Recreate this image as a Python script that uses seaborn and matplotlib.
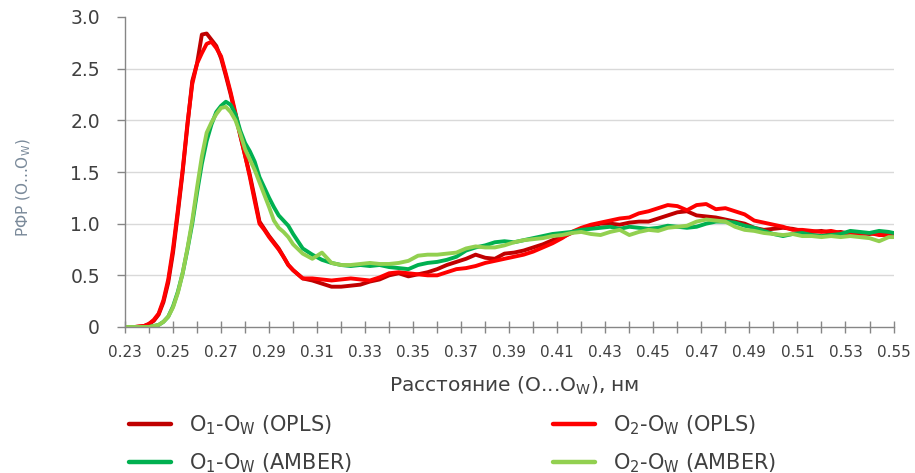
import numpy as np
import pandas as pd
import matplotlib
matplotlib.use("Agg")
import matplotlib.pyplot as plt
import seaborn as sns

# ---------------- data ----------------
x_nm = ([0.230, 0.234, 0.238]
        + [0.240, 0.242, 0.244, 0.246, 0.248, 0.250, 0.252, 0.254, 0.256, 0.258,
           0.260, 0.262, 0.264, 0.266, 0.268, 0.270, 0.272, 0.274, 0.276, 0.278,
           0.280, 0.282, 0.284, 0.286, 0.288, 0.290, 0.292, 0.294, 0.296, 0.298, 0.300]
        + [0.304, 0.308, 0.312, 0.316, 0.320, 0.324, 0.328, 0.332, 0.336, 0.340,
           0.344, 0.348, 0.352, 0.356, 0.360, 0.364, 0.368, 0.372, 0.376, 0.380,
           0.384, 0.388, 0.392, 0.396, 0.400, 0.404, 0.408, 0.412, 0.416, 0.420,
           0.424, 0.428, 0.432, 0.436, 0.440, 0.444, 0.448, 0.452, 0.456, 0.460,
           0.464, 0.468, 0.472, 0.476, 0.480, 0.484, 0.488, 0.492, 0.496, 0.500,
           0.504, 0.508, 0.512, 0.516, 0.520, 0.524, 0.528, 0.532, 0.536, 0.540,
           0.544, 0.548, 0.550])

o1_opls = ([0.00, 0.00, 0.01]
           + [0.03, 0.06, 0.12, 0.24, 0.43, 0.72, 1.10, 1.50, 1.95, 2.38,
              2.55, 2.83, 2.84, 2.78, 2.72, 2.60, 2.43, 2.25, 2.05, 1.85,
              1.66, 1.47, 1.25, 1.02, 0.95, 0.88, 0.82, 0.76, 0.68, 0.60, 0.55]
           + [0.47, 0.45, 0.42, 0.39, 0.39, 0.40, 0.41, 0.44, 0.46, 0.50,
              0.52, 0.49, 0.51, 0.53, 0.56, 0.60, 0.63, 0.66, 0.70, 0.67,
              0.66, 0.71, 0.72, 0.74, 0.77, 0.80, 0.84, 0.87, 0.91, 0.95,
              0.98, 1.00, 1.00, 0.99, 1.01, 1.02, 1.02, 1.05, 1.08, 1.11,
              1.12, 1.08, 1.07, 1.06, 1.04, 1.02, 1.00, 0.96, 0.94, 0.95,
              0.96, 0.95, 0.93, 0.92, 0.93, 0.91, 0.92, 0.90, 0.91, 0.90,
              0.91, 0.90, 0.90])

o2_opls = ([0.00, 0.00, 0.01]
           + [0.03, 0.07, 0.13, 0.26, 0.46, 0.76, 1.13, 1.52, 1.97, 2.35,
              2.55, 2.65, 2.74, 2.76, 2.70, 2.62, 2.45, 2.27, 2.07, 1.86,
              1.66, 1.45, 1.22, 1.00, 0.94, 0.87, 0.81, 0.75, 0.68, 0.60, 0.55]
           + [0.47, 0.47, 0.46, 0.45, 0.46, 0.47, 0.46, 0.45, 0.48, 0.52,
              0.53, 0.52, 0.51, 0.50, 0.50, 0.53, 0.56, 0.57, 0.59, 0.62,
              0.64, 0.66, 0.68, 0.70, 0.73, 0.77, 0.81, 0.86, 0.92, 0.96,
              0.99, 1.01, 1.03, 1.05, 1.06, 1.10, 1.12, 1.15, 1.18, 1.17,
              1.13, 1.18, 1.19, 1.14, 1.15, 1.12, 1.09, 1.03, 1.01, 0.99,
              0.97, 0.94, 0.94, 0.93, 0.92, 0.93, 0.91, 0.91, 0.90, 0.91,
              0.89, 0.89, 0.89])

o1_amber = ([0.00, 0.00, 0.00]
            + [0.00, 0.01, 0.02, 0.05, 0.10, 0.20, 0.34, 0.52, 0.75, 1.00,
               1.30, 1.58, 1.80, 1.96, 2.08, 2.14, 2.18, 2.15, 2.06, 1.90,
               1.78, 1.70, 1.60, 1.45, 1.35, 1.25, 1.16, 1.08, 1.03, 0.98, 0.90]
            + [0.76, 0.70, 0.65, 0.62, 0.60, 0.59, 0.60, 0.59, 0.60, 0.58,
               0.57, 0.56, 0.60, 0.62, 0.63, 0.65, 0.68, 0.74, 0.77, 0.79,
               0.82, 0.83, 0.82, 0.84, 0.86, 0.88, 0.90, 0.91, 0.92, 0.94,
               0.95, 0.96, 0.97, 0.95, 0.97, 0.96, 0.95, 0.96, 0.98, 0.97,
               0.96, 0.97, 1.00, 1.02, 1.02, 1.01, 0.98, 0.96, 0.93, 0.90,
               0.88, 0.90, 0.91, 0.89, 0.88, 0.89, 0.90, 0.93, 0.92, 0.91,
               0.93, 0.92, 0.91])

o2_amber = ([0.00, 0.00, 0.00]
            + [0.00, 0.01, 0.02, 0.05, 0.10, 0.19, 0.33, 0.52, 0.76, 1.03,
               1.35, 1.65, 1.88, 1.98, 2.06, 2.12, 2.13, 2.08, 2.00, 1.87,
               1.72, 1.62, 1.52, 1.40, 1.28, 1.16, 1.03, 0.96, 0.92, 0.87, 0.80]
            + [0.71, 0.66, 0.72, 0.62, 0.60, 0.60, 0.61, 0.62, 0.61, 0.61,
               0.62, 0.64, 0.69, 0.70, 0.70, 0.71, 0.72, 0.76, 0.78, 0.77,
               0.77, 0.79, 0.82, 0.84, 0.85, 0.86, 0.88, 0.89, 0.91, 0.92,
               0.90, 0.89, 0.92, 0.94, 0.89, 0.92, 0.94, 0.93, 0.96, 0.97,
               0.98, 1.02, 1.04, 1.03, 1.02, 0.97, 0.94, 0.93, 0.91, 0.90,
               0.89, 0.90, 0.88, 0.88, 0.87, 0.88, 0.87, 0.88, 0.87, 0.86,
               0.83, 0.87, 0.87])

series_labels = [r"O$_1$-O$_\mathrm{W}$ (OPLS)", r"O$_2$-O$_\mathrm{W}$ (OPLS)",
                 r"O$_1$-O$_\mathrm{W}$ (AMBER)", r"O$_2$-O$_\mathrm{W}$ (AMBER)"]
series_colors = ["#C00000", "#FF0000", "#00B050", "#92D050"]
x_tick_values = [0.23, 0.24, 0.25, 0.26, 0.27, 0.28, 0.29, 0.30, 0.31, 0.32, 0.33,
                 0.34, 0.35, 0.36, 0.37, 0.38, 0.39, 0.40, 0.41, 0.42, 0.43, 0.44,
                 0.45, 0.46, 0.47, 0.48, 0.49, 0.50, 0.51, 0.52, 0.53, 0.54, 0.55]
y_tick_values = [0, 0.5, 1.0, 1.5, 2.0, 2.5, 3.0]
x_label = r"Расстояние (O...O$_\mathrm{W}$), нм"
y_label = r"РФР (O...O$_\mathrm{W}$)"

# ---------------- plotting ----------------
sns.set_theme(style="white")
FONT = ["DejaVu Sans"]
plt.rcParams["font.family"] = FONT
plt.rcParams["mathtext.fontset"] = "dejavusans"

frames = []
for lab, ys in zip(series_labels, [o1_opls, o2_opls, o1_amber, o2_amber]):
    frames.append(pd.DataFrame({"x": x_nm, "y": ys, "series": lab}))
df = pd.concat(frames, ignore_index=True)

fig = plt.figure(figsize=(9.15, 4.73), dpi=100)
ax = fig.add_axes([125 / 915, 1 - 327 / 473, (894 - 125) / 915, (327 - 17) / 473])

sns.lineplot(data=df, x="x", y="y", hue="series", hue_order=series_labels,
             palette=dict(zip(series_labels, series_colors)),
             linewidth=2.8, ax=ax, legend=False, estimator=None, sort=True)

ax.set_xlim(0.23, 0.5502)
ax.set_ylim(0, 3.0)

ax.set_xticks(x_tick_values)
ax.set_xticklabels([f"{v:.2f}" if i % 2 == 0 else "" for i, v in enumerate(x_tick_values)],
                   fontsize=11, color="#404040")
ax.set_yticks(y_tick_values)
ax.set_yticklabels(["0" if v == 0 else f"{v:.1f}" for v in y_tick_values],
                   fontsize=13.5, color="#404040")

ax.tick_params(axis="x", direction="inout", length=8, width=1, color="#868686", pad=9,
               bottom=True)
ax.tick_params(axis="y", direction="out", length=6, width=1, color="#868686", pad=12,
               left=True)

ax.grid(axis="y", color="#D9D9D9", linewidth=1)
ax.grid(axis="x", visible=False)
for gl, v in zip(ax.get_ygridlines(), y_tick_values):
    if v in (0, 3.0):
        gl.set_visible(False)

for side in ("top", "right"):
    ax.spines[side].set_visible(False)
for side in ("left", "bottom"):
    ax.spines[side].set_color("#868686")
    ax.spines[side].set_linewidth(1)

ax.set_xlabel(x_label, fontsize=14.5, color="#404040")
ax.xaxis.label.set_va("center")
ax.xaxis.set_label_coords(0.506, -0.19)
ax.set_ylabel(y_label, fontsize=11, color="#7A8A9A")
ax.yaxis.label.set_va("center")
ax.yaxis.set_label_coords(-0.131, 0.45)

handles = [plt.Line2D([], [], color=c, linewidth=3.2) for c in series_colors]
leg_kw = dict(loc="upper left", frameon=False, fontsize=15, handlelength=2.0,
              handletextpad=0.9, labelspacing=0.7, borderpad=0, borderaxespad=0,
              labelcolor="#404040")
leg1 = fig.legend([handles[0], handles[2]], [series_labels[0], series_labels[2]],
                  bbox_to_anchor=(129 / 915, 1 - 413 / 473), **leg_kw)
leg2 = fig.legend([handles[1], handles[3]], [series_labels[1], series_labels[3]],
                  bbox_to_anchor=(553 / 915, 1 - 413 / 473), **leg_kw)

fig.savefig("out.png", dpi=100)
